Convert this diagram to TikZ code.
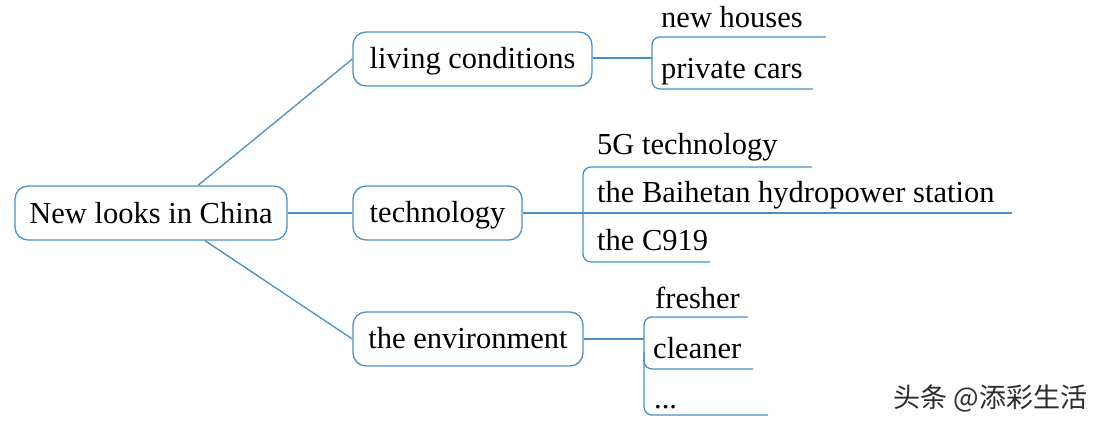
\documentclass[tikz,border=0pt]{standalone}
\usepackage{fontspec}
\setmainfont{Liberation Serif}
\newfontfamily\cjk{Noto Sans CJK SC}
\definecolor{mapblue}{RGB}{74,144,200}
\definecolor{wmgray}{RGB}{45,45,45}
\begin{document}
\begin{tikzpicture}[x=1pt,y=-1pt,
  every node/.style={font=\fontsize{30.5}{34}\selectfont, text=black},
  topicbox/.style={draw=mapblue, line width=1.3pt, rounded corners=13pt, minimum height=54pt, inner xsep=0pt, text height=20pt, text depth=1pt},
  leaf/.style={anchor=base west, inner sep=0pt},
  link/.style={draw=mapblue, line width=1.3pt},
  bracket/.style={draw=mapblue, line width=1.3pt, rounded corners=8pt}]
\useasboundingbox (0,0) rectangle (1108,428);
% main topic boxes
\node[topicbox, minimum width=272pt, text height=21pt] (root) at (151,213) {New looks in China};
\node[topicbox, minimum width=239pt] (living) at (472.5,59) {living conditions};
\node[topicbox, minimum width=169pt] (tech) at (437.5,213) {technology};
\node[topicbox, minimum width=230pt] (env) at (468,339) {the environment};
% connectors from root
\draw[link] ([xshift=47pt]root.north) -- (living.west);
\draw[link] (root.east) -- (tech.west);
\draw[link] ([xshift=54pt]root.south) -- (env.west);
% leaves: living conditions
\node[leaf] (houses) at (661,28) {new houses};
\node[leaf] (cars) at (661,78) {private cars};
\coordinate (lj) at (652,58);
\coordinate (lt) at (652,37);
\coordinate (lb) at (652,89);
\coordinate (lte) at (826,37);
\coordinate (lbe) at (813,89);
\draw[link] (living.east |- lj) -- (lj);
\draw[bracket] (lte) -- (lt) -- (lb) -- (lbe);
% leaves: technology
\node[leaf] (fiveg) at (597,154) {5G technology};
\node[leaf] (baihetan) at (597,202) {the Baihetan hydropower station};
\node[leaf] (c919) at (597,250) {the C919};
\coordinate (tt) at (583,167);
\coordinate (tb) at (583,262);
\coordinate (tte) at (812,167);
\coordinate (tbe) at (710,262);
\coordinate (tme) at (1012,213);
\draw[link] (tech.east) -- (tme);
\draw[bracket] (tte) -- (tt) -- (tb) -- (tbe);
% leaves: environment
\node[leaf] (fresher) at (655,308) {fresher};
\node[leaf] (cleaner) at (653,358) {cleaner};
\node[leaf] (etc) at (654,408) {...};
\coordinate (ej) at (644,339);
\coordinate (et) at (644,317);
\coordinate (eb) at (644,415);
\coordinate (em) at (644,369);
\coordinate (ems) at (644,352);
\coordinate (ete) at (748,317);
\coordinate (eme) at (753,369);
\coordinate (ebe) at (768,415);
\draw[link] (env.east) -- (ej);
\draw[bracket] (ete) -- (et) -- (eb) -- (ebe);
\draw[bracket] (ems) -- (em) -- (eme);
% watermark
\node[font=\cjk\fontsize{27}{29}\selectfont, text=wmgray, anchor=east] (wm) at (1091,398) {头条 @添彩生活};
\end{tikzpicture}
\end{document}
